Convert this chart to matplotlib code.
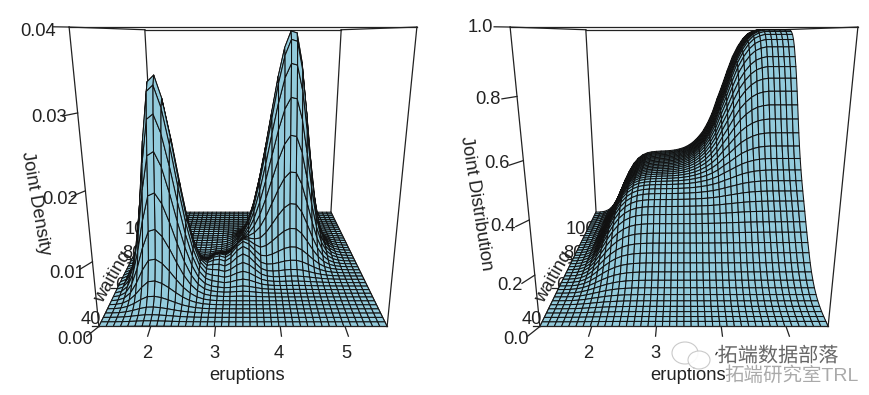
import numpy as np
import matplotlib
matplotlib.use('Agg')
import matplotlib.pyplot as plt
import matplotlib.patheffects as pe
from matplotlib.patches import Ellipse

plt.rcParams['font.family'] = ['Liberation Sans', 'Noto Sans CJK SC']

# grid limits
eruptions_range = [1.2, 5.65]
waiting_range = [40, 125]
n_grid = 41

eruption_ticks = [2, 3, 4, 5]
waiting_ticks = [40, 60, 80, 100]
density_ticks = [0.00, 0.01, 0.02, 0.03, 0.04]
density_labels = ['0.00', '0.01', '0.02', '0.03', '0.04']
dist_ticks = [0.0, 0.2, 0.4, 0.6, 0.8, 1.0]
dist_labels = ['0.0', '0.2', '0.4', '0.6', '0.8', '1.0']

# density slices, left panel
er_short = [.004, .019, .07, .198, .432, .731, .961, .989, .889, .714, .51, .325, .187, .095, .043, .017, .006, .002, 0, 0,
            0, 0, 0, 0, 0, 0, 0, 0, 0, 0, 0, 0, 0, 0, 0, 0, 0, 0, 0, 0, 0]
wait_short = [.002, .005, .013, .03, .063, .12, .21, .34, .5, .68, .84, .96, 1, .96, .84, .68, .5, .34, .21, .12, .063,
              .03, .013, .005, .002, 0, 0, 0, 0, 0, 0, 0, 0, 0, 0, 0, 0, 0, 0, 0, 0]
er_long = [0, 0, 0, 0, 0, 0, 0, 0, 0, 0, 0, 0, 0, 0, .001, .003, .004, .01, .021, .043, .08, .138, .228, .349, .493, .651,
           .804, .925, .992, .984, .864, .667, .453, .27, .141, .065, .027, .01, .003, .001, 0]
wait_long = [0, 0, 0, 0, 0, 0, 0, 0, 0, .001, .003, .007, .015, .031, .06, .109, .183, .287, .421, .575, .732, .87, .966, 1,
             .966, .87, .732, .575, .421, .287, .183, .109, .06, .031, .015, .007, .003, .001, 0, 0, 0]
er_mid = [0, 0, 0, 0, 0, 0, 0, 0, 0, 0, 0, 0, 0, 0, .15, .4, .5, .45, .6, .85, 1, .85, .55, .25, .1, .03, 0, 0, 0, 0, 0, 0, 0,
          0, 0, 0, 0, 0, 0, 0, 0]
wait_mid = [0, 0, 0, 0, 0, 0, 0, .03, .07, .13, .25, .41, .61, .8, .95, 1, .95, .8, .61, .41, .25, .13, .07, .03, 0, 0, 0, 0,
            0, 0, 0, 0, 0, 0, 0, 0, 0, 0, 0, 0, 0]
short_peak = 0.0338
long_peak = 0.040
mid_peak = 0.005

# distribution slices, right panel
er_short_cum = [.001, .004, .015, .047, .117, .235, .39, .55, .693, .809, .891, .943, .974, .989, .996, .999, 1, 1, 1, 1,
                1, 1, 1, 1, 1, 1, 1, 1, 1, 1, 1, 1, 1, 1, 1, 1, 1, 1, 1, 1, 1]
wait_short_cum = [0, .005, .01, .017, .029, .047, .075, .111, .159, .218, .288, .371, .456, .544, .629, .712, .782, .841, .889,
                  .925, .953, .971, .983, .99, .995, .997, .999, 1, 1, 1, 1, 1, 1, 1, 1, 1, 1, 1, 1, 1, 1]
er_long_cum = [0, 0, 0, 0, 0, 0, 0, 0, 0, 0, 0, 0, 0, 0, 0, .001, .002, .005, .01, .019, .032, .052, .08, .12, .17, .24, .33,
               .45, .56, .68, .79, .87, .93, .97, .99, 1, 1, 1, 1, 1, 1]
wait_long_cum = [0, 0, 0, 0, 0, 0, 0, 0, 0, 0, .001, .002, .004, .007, .013, .023, .038, .06, .091, .133, .186, .252, .328,
                 .412, .5, .588, .672, .748, .814, .88, .93, .965, .985, .995, 1, 1, 1, 1, 1, 1, 1]
short_weight = 0.36
long_weight = 0.64

SURF_COLOR = '#93cbdc'
LINE_COLOR = '#111111'
TEXT_COLOR = '#222222'
PX_W, PX_H = 870, 395


def panel(cx, z, ztop, zticks, zlabels, zlabel_pos, zlabel_pos_text, zlabel_rot, zlabel):
    # cx is the pixel column of the view axis, the axes are square in pixels
    size = 480
    left = cx - size / 2
    top = 150 - size / 2
    ax = fig.add_axes([left / PX_W, 1 - (top + size) / PX_H, size / PX_W, size / PX_H],
                      projection='3d', computed_zorder=False)
    ax.set_box_aspect((1, 1, 1))
    ax.set_proj_type('persp', focal_length=0.2052)
    ax.view_init(elev=15, azim=-90)
    x0, x1 = eruptions_range
    y0, y1 = waiting_range
    ax.set_xlim(x0, x1, view_margin=0)
    ax.set_ylim(y0, y1, view_margin=0)
    ax.set_zlim(0, ztop, view_margin=0)
    ax.viewLim.intervalx = (-0.11305, 0.11305)
    ax.viewLim.intervaly = (-0.11305, 0.11305)
    ax.set_axis_off()
    ax.patch.set_alpha(0)

    X, Y = np.meshgrid(np.linspace(x0, x1, n_grid), np.linspace(y0, y1, n_grid))
    surf = ax.plot_surface(X, Y, z, color=SURF_COLOR, shade=False, edgecolor=LINE_COLOR,
                           linewidth=0.75, rstride=1, cstride=1, zorder=2)
    surf.set_snap(False)

    box = dict(color='#222222', lw=0.9)
    # back of the box goes under the surface
    ax.plot([x0, x0], [y1, y1], [0, ztop], zorder=1, **box)
    ax.plot([x1, x1], [y1, y1], [0, ztop], zorder=1, **box)
    ax.plot([x0, x1], [y1, y1], [ztop, ztop], zorder=1, **box)
    ax.plot([x0, x0], [y0, y1], [0, 0], zorder=1, **box)
    ax.plot([x1, x1], [y0, y1], [0, 0], zorder=1, **box)
    ax.plot([x0, x0], [y0, y1], [ztop, ztop], zorder=1, **box)
    ax.plot([x1, x1], [y0, y1], [ztop, ztop], zorder=1, **box)
    # front edges on top
    ax.plot([x0, x1], [y0, y0], [ztop, ztop], zorder=3, **box)
    ax.plot([x0, x0], [y0, y0], [0, ztop], zorder=3, **box)
    ax.plot([x1, x1], [y0, y0], [0, ztop], zorder=3, **box)
    ax.plot([x0, x1], [y0, y0], [0, 0], zorder=3, **box)

    dx = (x1 - x0) * 0.025
    dy = (y1 - y0) * 0.05
    for t in eruption_ticks:
        ax.plot([t, t], [y0, y0 - dy], [0, 0], zorder=3, **box)
    for t in waiting_ticks:
        ax.plot([x0, x0 - dx], [t, t], [0, 0], zorder=1, **box)
    for t in zticks:
        ax.plot([x0, x0 - dx], [y0, y0 - dy], [t, t], zorder=3, **box)

    def label(x, y, s, zorder=4, **kw):
        kw.setdefault('ha', 'center')
        kw.setdefault('va', 'center')
        ax.text2D(x / PX_W, 1 - y / PX_H, s, transform=fig.transFigure, fontsize=13.2,
                  color=TEXT_COLOR, zorder=zorder, **kw)

    for t, (px, py) in zip(eruption_ticks, [(cx - 96, 353), (cx - 29, 353), (cx + 36, 353), (cx + 103, 353)]):
        label(px, py, str(t))
    for s, (px, py) in zip(zlabels, zlabel_pos):
        label(cx + px, py, s)
    label(cx - 152, 320, '40', zorder=0.5)
    label(cx - 118, 285, '60', zorder=0.5)
    label(cx - 111, 253, '80', zorder=0.5)
    label(cx - 103, 230, '100', zorder=0.5)
    label(cx - 130, 277, 'waiting', zorder=0.6, rotation=60, rotation_mode='anchor')
    label(cx + zlabel_pos_text[0], zlabel_pos_text[1], zlabel, rotation=zlabel_rot, rotation_mode='anchor')
    label(cx + 4, 375, 'eruptions')
    return ax


fig = plt.figure(figsize=(PX_W / 100, PX_H / 100), dpi=100, facecolor='white')

density = (short_peak * np.outer(wait_short, er_short)
           + long_peak * np.outer(wait_long, er_long)
           + mid_peak * np.outer(wait_mid, er_mid))
distribution = (short_weight * np.outer(wait_short_cum, er_short_cum)
                + long_weight * np.outer(wait_long_cum, er_long_cum))

panel(243, density, 0.04, density_ticks, density_labels,
      [(-168, 339), (-176, 273), (-183, 200), (-194, 118), (-205, 31)],
      (-208, 203), -80, 'Joint Density')
panel(684, distribution, 1.0, dist_ticks, dist_labels,
      [(-168, 339), (-174, 285), (-181, 226), (-187, 163), (-196, 99), (-204, 28)],
      (-208, 203), -81, 'Joint Distribution')

# watermark, bottom right
for (ex, ey, w, h) in [(685, 353, 26, 22), (699, 360, 22, 18)]:
    fig.add_artist(Ellipse((ex / PX_W, 1 - ey / PX_H), w / PX_W, h / PX_H, transform=fig.transFigure,
                           facecolor='white', edgecolor='#c4c4c4', lw=0.8, alpha=0.9))
glow = [pe.withStroke(linewidth=3, foreground='white')]
fig.text(778 / PX_W, 1 - 356 / PX_H, '拓端数据部落', fontsize=14.5, color='#666666', ha='center', va='center',
         path_effects=glow)
fig.text(791 / PX_W, 1 - 376 / PX_H, '拓端研究室TRL', fontsize=14, color='#aaaaaa', ha='center', va='center')

fig.savefig('out.png', dpi=100)
